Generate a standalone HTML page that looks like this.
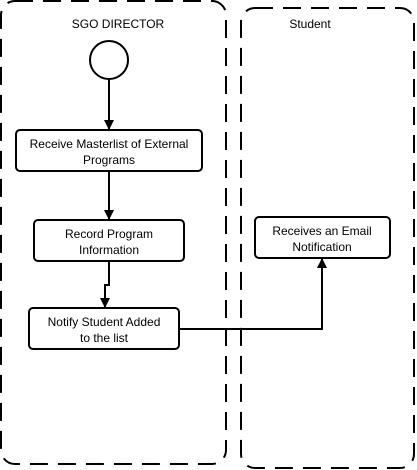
<!DOCTYPE html>
<html><head><style>body{margin:0;background:#fff}svg{display:block}text{font-family:"Liberation Sans",sans-serif;font-size:12px;fill:#000}</style></head>
<body>
<svg width="417" height="470" viewBox="0 0 417 470">
<defs><marker id="a" markerWidth="10" markerHeight="10" refX="9" refY="5" orient="auto" markerUnits="userSpaceOnUse"><path d="M0,0 L10,5 L0,10 Z" fill="#000"/></marker></defs>
<g fill="none" stroke="#000" stroke-width="2" stroke-dasharray="18,10">
<rect x="1" y="1" width="225" height="463" rx="14"/>
<rect x="241" y="8" width="173" height="460" rx="14"/>
</g>
<text x="118" y="28" text-anchor="middle">SGO DIRECTOR</text>
<text x="310" y="28" text-anchor="middle">Student</text>
<circle cx="109" cy="60" r="19" fill="#fff" stroke="#000" stroke-width="2"/>
<g fill="#fff" stroke="#000" stroke-width="2">
<rect x="16" y="130" width="186" height="41" rx="4"/>
<rect x="34" y="220" width="150" height="41" rx="4"/>
<rect x="29" y="308" width="150" height="41" rx="4"/>
<rect x="255" y="217" width="135" height="41" rx="4"/>
</g>
<g fill="none" stroke="#000" stroke-width="2" marker-end="url(#a)">
<path d="M109,79 V129"/>
<path d="M109,171 V219"/>
<path d="M109,261 V285 H105 V307"/>
<path d="M179,329 H322 V259"/>
</g>
<g text-anchor="middle">
<text x="109" y="148">Receive Masterlist of External</text><text x="109" y="164">Programs</text>
<text x="109" y="238">Record Program</text><text x="109" y="254">Information</text>
<text x="104" y="326">Notify Student Added</text><text x="104" y="342">to the list</text>
<text x="322" y="235">Receives an Email</text><text x="322" y="251">Notification</text>
</g>
</svg>
</body></html>
